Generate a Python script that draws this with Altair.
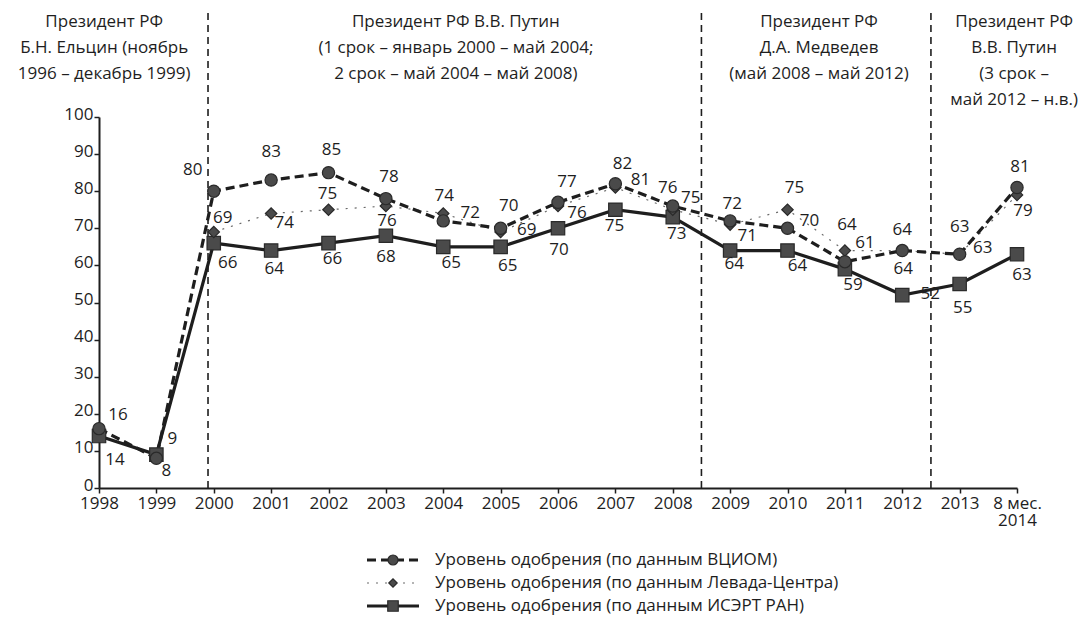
import json
import altair as alt
import pandas as pd

# ---------------- data ----------------
periods = ["1998", "1999", "2000", "2001", "2002", "2003", "2004", "2005", "2006",
           "2007", "2008", "2009", "2010", "2011", "2012", "2013", "8 мес. 2014"]
vciom = [16, 8, 80, 83, 85, 78, 72, 70, 77, 82, 76, 72, 70, 61, 64, 63, 81]
levada = [None, None, 69, 74, 75, 76, 74, 69, 76, 81, 75, 71, 75, 64, 64, 63, 79]
isert = [14, 9, 66, 64, 66, 68, 65, 65, 70, 75, 73, 64, 64, 59, 52, 55, 63]

series_names = [
    "Уровень одобрения (по данным ВЦИОМ)",
    "Уровень одобрения (по данным Левада-Центра)",
    "Уровень одобрения (по данным ИСЭРТ РАН)",
]

# presidential periods: boundaries (in period-index units) and captions
period_bounds = [1.9, 10.5, 14.5]
period_caption_x = [0.09, 6.22, 12.55, 15.95]
period_captions = [
    ["Президент РФ", "Б.Н. Ельцин (ноябрь", "1996 – декабрь 1999)"],
    ["Президент РФ В.В. Путин", "(1 срок – январь 2000  – май 2004;", "2 срок –  май 2004 – май 2008)"],
    ["Президент РФ", "Д.А. Медведев", "(май 2008 – май 2012)"],
    ["Президент РФ", "В.В. Путин", "(3 срок –", "май 2012 – н.в.)"],
]

# value-label offsets (pixels) – layout only
vciom_dx = [19, 10, -21, 0, 3, 3, 27, 8, 9, 7, -5, 2, 22, 20, 0, 0, 3]
vciom_dy = [-14, 13, -21, -28, -23, -22, -8, -22, -20, -20, -18, -17, -7, -19, -21, -27, -20]
levada_dx = [0, 0, 9, 13, -1, 1, 1, 26, 19, 25, 18, 17, 7, 2, 1, 23, 6]
levada_dy = [0, 0, -14, 10, -16, 15, -17, -2, 7, -7, -12, 11, -22, -26, 18, -6, 16]
isert_dx = [16, 16, 14, 3, 4, 0, 8, 7, 1, -1, 4, 4, 10, 8, 28, 3, 5]
isert_dy = [24, -16, 20, 18, 16, 21, 16, 19, 22, 16, 17, 13, 15, 16, -1, 24, 21]

FONT = "Open Sans"
FS = 17
INK = "#1e1e1e"
MARK_FILL = "#4a4a4a"

rows = []
for s, vals, dxs, dys in [
    (series_names[0], vciom, vciom_dx, vciom_dy),
    (series_names[1], levada, levada_dx, levada_dy),
    (series_names[2], isert, isert_dx, isert_dy),
]:
    for i, v in enumerate(vals):
        if v is None:
            continue
        rows.append({"series": s, "idx": i, "period": periods[i], "value": v,
                     "dx": dxs[i], "dy": dys[i]})
df = pd.DataFrame(rows)

W, H = 918, 371
xscale = alt.Scale(domain=[0, len(periods) - 1], nice=False, zero=False)
yscale = alt.Scale(domain=[0, 100], nice=False, zero=True)

label_arr = json.dumps(periods, ensure_ascii=False)
x_axis = alt.Axis(
    values=list(range(len(periods))),
    labelExpr=f"datum.value == {len(periods) - 1} ? ['8 мес.', '2014'] : {label_arr}[datum.value]",
    title=None, grid=False, domainColor=INK, domainWidth=2, tickColor=INK,
    tickWidth=1.5, tickSize=5, labelFont=FONT, labelFontSize=FS, labelColor=INK,
    labelPadding=2, labelLineHeight=17, labelFlush=False, labelOverlap=False,
)
y_axis = alt.Axis(
    values=list(range(0, 101, 10)), tickCount=11, title=None, grid=False,
    domainColor=INK, domainWidth=2, tickColor=INK, tickWidth=1.5, tickSize=5,
    labelFont=FONT, labelFontSize=FS, labelColor=INK, labelPadding=1,
    labelOverlap=False, labelFlush=False, labelOffset=-3,
)

base = alt.Chart(df)
X = alt.X("idx:Q", scale=xscale, axis=x_axis)
Y = alt.Y("value:Q", scale=yscale, axis=y_axis)


def sel(name):
    return alt.datum.series == name


line_isert = base.transform_filter(sel(series_names[2])).mark_line(
    color=INK, strokeWidth=3.2).encode(x=X, y=Y, order="idx:Q")
line_vciom = base.transform_filter(sel(series_names[0])).mark_line(
    color=INK, strokeWidth=3.2, strokeDash=[9, 5]).encode(x=X, y=Y, order="idx:Q")
line_levada = base.transform_filter(sel(series_names[1])).mark_line(
    color="#6a6a6a", strokeWidth=1.2, strokeDash=[2, 7]).encode(x=X, y=Y, order="idx:Q")

pt_style = dict(filled=True, fill=MARK_FILL, stroke="#2a2a2a", strokeWidth=1.2, opacity=1)
pts_vciom = base.transform_filter(sel(series_names[0])).mark_point(
    shape="circle", size=150, **pt_style).encode(x=X, y=Y)
pts_levada = base.transform_filter(sel(series_names[1])).mark_point(
    shape="diamond", size=130, **pt_style).encode(x=X, y=Y)
pts_isert = base.transform_filter(sel(series_names[2])).mark_point(
    shape="square", size=180, **pt_style).encode(x=X, y=Y)

# value labels: one text layer per distinct offset
label_layers = []
for (dx, dy), _grp in df.groupby(["dx", "dy"]):
    label_layers.append(
        base.transform_filter((alt.datum.dx == int(dx)) & (alt.datum.dy == int(dy)))
        .mark_text(font=FONT, fontSize=FS, color=INK, baseline="middle",
                   align="center", dx=int(dx), dy=int(dy))
        .encode(x=X, y=Y, text=alt.Text("value:Q"))
    )

# presidential period separators
bounds_df = pd.DataFrame({"b": period_bounds, "zero": [0] * len(period_bounds)})
sep = alt.Chart(bounds_df).mark_rule(color=INK, strokeWidth=1.6, strokeDash=[7, 5]).encode(
    x=alt.X("b:Q", scale=xscale, axis=x_axis),
    y=alt.Y("zero:Q", scale=yscale, axis=y_axis),
    y2=alt.value(-112),
)

cap_df = pd.DataFrame({"x": period_caption_x, "t": period_captions})
captions = alt.Chart(cap_df).mark_text(
    font=FONT, fontSize=FS, color=INK, align="center", baseline="alphabetic",
    lineHeight=26).encode(
    x=alt.X("x:Q", scale=xscale, axis=x_axis), y=alt.value(-90), text="t")

# ---------- legend (drawn below the plot) ----------
leg_layers = []
leg_y = [443, 466, 489]
leg_x0, leg_x1, leg_xm, leg_xt = 268, 320, 294, 336
leg_line_styles = [
    dict(color=INK, strokeWidth=3.2, strokeDash=[9, 5]),
    dict(color="#6a6a6a", strokeWidth=1.2, strokeDash=[2, 7]),
    dict(color=INK, strokeWidth=3.2),
]
leg_shapes = [("circle", 100), ("diamond", 70), ("square", 110)]
leg_df = pd.DataFrame({"name": series_names})
for k, name in enumerate(series_names):
    one = alt.Chart(leg_df).transform_filter(alt.datum.name == name)
    leg_layers.append(one.mark_rule(**leg_line_styles[k]).encode(
        x=alt.value(leg_x0), x2=alt.value(leg_x1), y=alt.value(leg_y[k])))
    leg_layers.append(one.mark_point(shape=leg_shapes[k][0], size=leg_shapes[k][1],
                                     **pt_style).encode(
        x=alt.value(leg_xm), y=alt.value(leg_y[k])))
    leg_layers.append(one.mark_text(font=FONT, fontSize=FS, color=INK, align="left",
                                    baseline="middle").encode(
        x=alt.value(leg_xt), y=alt.value(leg_y[k]), text="name:N"))

chart = alt.layer(
    sep, line_isert, line_levada, line_vciom, pts_isert, pts_levada, pts_vciom,
    *label_layers, captions, *leg_layers,
).properties(
    width=W, height=H,
    padding={"left": 91, "top": 109, "right": 63, "bottom": 127},
    autosize=alt.AutoSizeParams(type="none"),
    background="white",
).configure_view(stroke=None)

chart.save("out.html", embed_options={"renderer": "svg", "actions": False})
